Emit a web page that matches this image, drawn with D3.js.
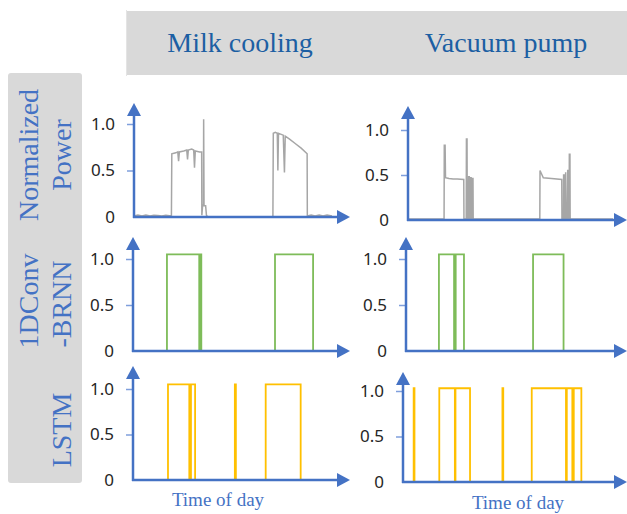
<!DOCTYPE html>
<html><head><meta charset="utf-8">
<script src="https://cdn.jsdelivr.net/npm/d3@7"></script>
<style>body{margin:0;background:#fff}svg{display:block}</style>
</head><body>
<svg id="c" width="627" height="514"></svg>
<script>
// ---- data (time index 0..100, value) ----
const columns = ["Milk cooling", "Vacuum pump"];
const rowLabels = [["Normalized", "Power"], ["1DConv", "-BRNN"], ["LSTM"]];
const yTicks = [0, 0.5, 1.0];
const xLabel = "Time of day";

const powerMilk = [[0,0.01],[2,0.02],[4,0.012],[6,0.02],[8,0.01],[10,0.02],[12,0.015],[14,0.01],[16,0.02],[18.8,0.01],
 [19,0.68],[21,0.69],[22,0.7],[22.4,0.6],[22.8,0.7],[25,0.71],[26.5,0.72],[26.9,0.62],[27.3,0.72],[29,0.73],[30,0.72],[30.4,0.53],[30.8,0.71],[33,0.7],[34,0.7],
 [34.1,0.02],[34.5,0.13],[34.9,0.13],[35,1.05],[35.2,0.12],[36,0.12],[36.4,0.02],[37,0],[69.8,0],
 [70,0.9],[71,0.91],[72,0.9],[72.3,0.5],[72.6,0.9],[75,0.88],[75.6,0.48],[76,0.87],[78,0.84],[81,0.79],[84,0.74],[87,0.68],
 [87.1,0.01],[89,0.02],[91,0.012],[93,0.02],[95,0.01],[97,0.02],[99.5,0.01]];
const powerVacuum = [[0,0.01],[17.6,0.01],[17.7,0.83],[18.1,0.83],[18.3,0.47],[20,0.46],[22,0.455],[24,0.455],[27.2,0.45],[27.3,0.01],
 [28.4,0.01],[28.5,0.9],[28.8,0.9],[28.9,0.01],[29.5,0.01],[29.6,0.48],[29.9,0.48],[30.0,0.01],[30.4,0.01],[30.5,0.47],[30.8,0.47],[30.9,0.01],
 [31.3,0.01],[31.4,0.46],[31.7,0.46],[31.8,0.01],[64.3,0.01],[64.4,0.55],[65,0.52],[66,0.47],[70,0.46],[75,0.45],[75.1,0.01],
 [75.8,0.01],[75.9,0.5],[76.2,0.5],[76.3,0.01],[76.8,0.01],[76.9,0.53],[77.2,0.01],[77.8,0.01],[77.9,0.55],[78.2,0.55],[78.3,0.01],
 [78.6,0.01],[78.7,0.73],[79,0.73],[79.1,0.01],[100,0.01]];
const brnnMilk = [[0,0],[16.4,1.05],[32.0,0],[32.4,1.05],[33.0,0],[68.6,1.05],[87,0],[100,0]];
const brnnVacuum = [[0,0],[16.3,1.05],[23.8,0],[24.6,1.05],[28.7,0],[62.9,1.05],[78,0],[100,0]];
const lstmMilk = [[0,0],[16.9,1.05],[27.2,0],[28,1.05],[30,0],[49.2,1.05],[49.7,0],[64.1,1.05],[81,0],[100,0]];
const lstmVacuum = [[0,0],[5.2,1.03],[5.6,0],[17.7,1.03],[25.3,0],[25.6,1.03],[32.7,0],[48.5,1.03],[48.9,0],[62.8,1.03],[79.5,0],[79.9,1.03],[82.6,0],[83.3,1.03],[87,0],[100,0]];

// ---- layout ----
const panels = [
 {row:0,col:0,data:powerMilk,  type:"power",ax:134,x1:333,xEnd:350,y0:217,y1:124,top:103},
 {row:0,col:1,data:powerVacuum,type:"power",ax:408,x1:613,xEnd:627,y0:220,y1:130,top:106},
 {row:1,col:0,data:brnnMilk,   type:"brnn", ax:133,x1:340,xEnd:350,y0:351,y1:259,top:237},
 {row:1,col:1,data:brnnVacuum, type:"brnn", ax:406,x1:608,xEnd:627,y0:351,y1:259,top:237},
 {row:2,col:0,data:lstmMilk,   type:"lstm", ax:133,x1:340,xEnd:350,y0:480,y1:389,top:366},
 {row:2,col:1,data:lstmVacuum, type:"lstm", ax:403,x1:608,xEnd:627,y0:482,y1:391,top:372}
];
const colors = {power:"#a6a6a6", brnn:"#7ebc59", lstm:"#ffc000"};
const axisColor = "#4472c4";

const svg = d3.select("#c");

// header band
svg.append("rect").attr("x",126).attr("y",11).attr("width",501).attr("height",64).attr("fill","#d9d9d9");
svg.append("line").attr("x1",126.5).attr("x2",126.5).attr("y1",10).attr("y2",76).attr("stroke","#e4e4e4").attr("stroke-width",1);
const headX = [240, 506];
columns.forEach((c,i)=>{
  svg.append("text").attr("x",headX[i]).attr("y",52).attr("text-anchor","middle")
    .attr("font-family","'Liberation Serif','DejaVu Serif',serif").attr("font-size",28)
    .attr("fill","#1c5fa3").text(c);
});

// row label band
svg.append("rect").attr("x",8).attr("y",73).attr("width",74).attr("height",410).attr("rx",3).attr("fill","#d9d9d9");
const rowCenters = [155, 301, 430];
rowLabels.forEach((lines,r)=>{
  const baseX = lines.length===2 ? [38,71] : [71];
  lines.forEach((t,j)=>{
    svg.append("text").attr("transform",`translate(${baseX[j]},${rowCenters[r] + (r===1&&j===1?3:0)}) rotate(-90)`)
      .attr("text-anchor","middle")
      .attr("font-family","'Liberation Serif','DejaVu Serif',serif").attr("font-size",28)
      .attr("fill","#4472c4").text(t);
  });
});

// panels
panels.forEach(p=>{
  const g = svg.append("g");
  const x = d3.scaleLinear().domain([0,100]).range([p.ax, p.x1]);
  const y = d3.scaleLinear().domain([0,1]).range([p.y0, p.y1]);

  // y tick marks + labels
  const axis = d3.axisLeft(y).tickValues(yTicks).tickSize(7).tickPadding(12)
     .tickFormat(d => d===0 ? "0" : d3.format(".1f")(d));
  const ag = g.append("g").attr("transform",`translate(${p.ax},0)`).call(axis);
  ag.select(".domain").remove();
  ag.selectAll(".tick line").attr("stroke","#7f9fdc").attr("stroke-width",1.5)
     .attr("opacity", d => d===0 ? 0 : 1);
  ag.selectAll(".tick text").attr("fill","#262626").attr("font-size",17)
     .attr("font-family","'Noto Sans','Open Sans',sans-serif");

  // signal
  const line = d3.line().x(d=>x(d[0])).y(d=>y(d[1]));
  if (p.type !== "power") line.curve(d3.curveStepAfter);
  g.append("path").datum(p.data).attr("d",line).attr("fill","none")
    .attr("stroke",colors[p.type]).attr("stroke-width", p.type==="power"?1.5:1.8)
    .attr("stroke-linejoin","miter");

  // axes with arrows
  g.append("line").attr("x1",p.ax).attr("x2",p.ax).attr("y1",p.y0+1).attr("y2",p.top+10)
    .attr("stroke",axisColor).attr("stroke-width",2.5);
  g.append("line").attr("x1",p.ax-1).attr("x2",p.xEnd-10).attr("y1",p.y0).attr("y2",p.y0)
    .attr("stroke",axisColor).attr("stroke-width",2.5);
  g.append("path").attr("d",`M${p.ax},${p.top} L${p.ax-7},${p.top+13} L${p.ax+7},${p.top+13} Z`).attr("fill",axisColor);
  g.append("path").attr("d",`M${p.xEnd},${p.y0} L${p.xEnd-13},${p.y0-7} L${p.xEnd-13},${p.y0+7} Z`).attr("fill",axisColor);

  if (p.row===2) {
    svg.append("text").attr("x", p.col===0?218:518).attr("y", p.col===0?506:509)
      .attr("text-anchor","middle").attr("font-family","'Liberation Serif','DejaVu Serif',serif")
      .attr("font-size",19).attr("fill","#4472c4").text(xLabel);
  }
});
</script>
</body></html>
